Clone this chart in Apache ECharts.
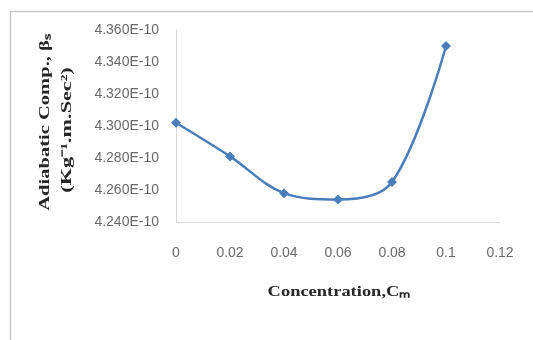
<!DOCTYPE html>
<html><head><meta charset="utf-8">
<script src="https://cdn.jsdelivr.net/npm/echarts@6/dist/echarts.min.js"></script>
<style>html,body{margin:0;padding:0;background:#fff}#c{width:533px;height:340px}</style>
</head><body><div id="c"></div>
<script>
// Concentration C_m
var concentration = [0, 0.02, 0.04, 0.06, 0.08, 0.1];
// Adiabatic compressibility, in units of 1E-10
var betaE10 = [4.302, 4.281, 4.258, 4.254, 4.265, 4.350];
var xTicks = [0, 0.02, 0.04, 0.06, 0.08, 0.1, 0.12];
var yTicks = [4.240, 4.260, 4.280, 4.300, 4.320, 4.340, 4.360];

var chart = echarts.init(document.getElementById('c'), null, {renderer: 'canvas'});
var tickFont = {color: '#6a6a6a', fontSize: 14, fontFamily: 'Liberation Sans, Arial, sans-serif'};
chart.setOption({
  animation: false,
  grid: {left: 176, right: 33, top: 30, bottom: 118, containLabel: false},
  xAxis: {
    type: 'value', min: xTicks[0], max: xTicks[xTicks.length-1], interval: 0.02,
    axisLine: {lineStyle: {color: '#d9d9d9', width: 1}},
    axisTick: {show: false},
    splitLine: {show: false},
    axisLabel: Object.assign({margin: 24, formatter: function(v){ return String(+v.toFixed(2)); }}, tickFont)
  },
  yAxis: {
    type: 'value', min: yTicks[0], max: yTicks[yTicks.length-1], interval: 0.02,
    axisLine: {show: true, lineStyle: {color: '#d9d9d9', width: 1}},
    axisTick: {show: false},
    splitLine: {show: false},
    axisLabel: Object.assign({margin: 17, formatter: function(v){ return v.toFixed(3) + 'E-10'; }}, tickFont)
  },
  series: [{
    type: 'line',
    data: concentration.map(function(c, i){ return [c, betaE10[i]]; }),
    smooth: 0.35,
    symbol: 'diamond', symbolSize: 10,
    lineStyle: {color: '#4a7ebb', width: 2.5},
    itemStyle: {color: '#4a7ebb'}
  }],
  graphic: [
    {type: 'rect', shape: {x: 10.5, y: 11.5, width: 600, height: 400},
     style: {fill: null, stroke: '#c8c8c8', lineWidth: 1.5}, silent: true},
    {type: 'text', x: 45, y: 122, rotation: Math.PI/2, scaleX: 1.37,
     style: {text: 'Adiabatic Comp., βₛ', font: 'bold 15px "Liberation Serif", serif', fill: '#262626', align: 'center', verticalAlign: 'middle'}},
    {type: 'text', x: 67, y: 130, rotation: Math.PI/2, scaleX: 1.48,
     style: {text: '(Kg⁻¹.m.Sec²)', font: 'bold 15px "Liberation Serif", serif', fill: '#262626', align: 'center', verticalAlign: 'middle'}},
    {type: 'text', x: 339, y: 292, scaleX: 1.23,
     style: {text: 'Concentration,Cₘ', font: 'bold 15px "Liberation Serif", serif', fill: '#262626', align: 'center', verticalAlign: 'middle'}}
  ]
});
</script></body></html>
